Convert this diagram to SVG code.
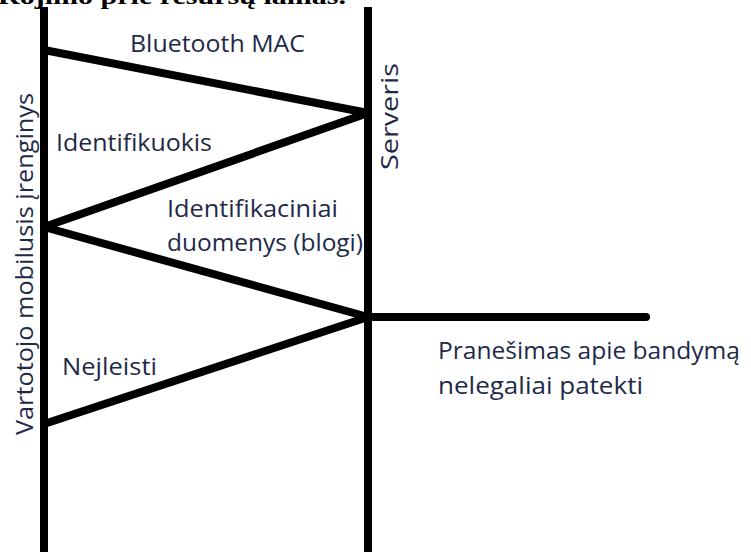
<svg xmlns="http://www.w3.org/2000/svg" width="751" height="552" viewBox="0 0 751 552">
  <style>
    .life { stroke: #000; stroke-width: 8; fill: none; }
    .msg { stroke: #000; stroke-width: 8; fill: none; stroke-linecap: round; stroke-linejoin: round; }
    .lbl { font-family: "Open Sans", "Liberation Sans", sans-serif; font-size: 23px; fill: #1e2a48; }
    .title { font-family: "Liberation Serif", serif; font-weight: bold; font-size: 23px; fill: #000; }
  </style>
  <rect width="751" height="552" fill="#fff"/>

  <!-- heading, partly above the top edge -->
  <text class="title" x="-2" y="4" textLength="348" lengthAdjust="spacingAndGlyphs">Rojimo prie resursų lamas.</text>

  <!-- lifeline: mobile device -->
  <g id="device">
    <line class="life" x1="44" y1="7" x2="44" y2="552"/>
    <text class="lbl" transform="translate(33 435) rotate(-90)" textLength="342" lengthAdjust="spacingAndGlyphs">Vartotojo mobilusis įrenginys</text>
  </g>

  <!-- lifeline: server -->
  <g id="server">
    <line class="life" x1="368" y1="7" x2="368" y2="552"/>
    <text class="lbl" transform="translate(398 170) rotate(-90)" textLength="107" lengthAdjust="spacingAndGlyphs">Serveris</text>
  </g>

  <!-- messages -->
  <g id="connectors">
    <polyline class="msg" points="44,50 368,113 44,227 368,317 44,424"/>
    <line class="msg" x1="368" y1="317" x2="646" y2="317"/>
  </g>

  <!-- message labels -->
  <g id="labels">
    <text class="lbl" x="130" y="52" textLength="175" lengthAdjust="spacingAndGlyphs">Bluetooth MAC</text>
    <text class="lbl" x="56" y="151" textLength="156" lengthAdjust="spacingAndGlyphs">Identifikuokis</text>
    <text class="lbl" x="167" y="217" textLength="171" lengthAdjust="spacingAndGlyphs">Identifikaciniai</text>
    <text class="lbl" x="167" y="251" textLength="196" lengthAdjust="spacingAndGlyphs">duomenys (blogi)</text>
    <text class="lbl" x="62" y="375" textLength="95" lengthAdjust="spacingAndGlyphs">Nejleisti</text>
    <text class="lbl" x="438" y="359" textLength="302" lengthAdjust="spacingAndGlyphs">Pranešimas apie bandymą</text>
    <text class="lbl" x="438" y="394" textLength="205" lengthAdjust="spacingAndGlyphs">nelegaliai patekti</text>
  </g>
</svg>
